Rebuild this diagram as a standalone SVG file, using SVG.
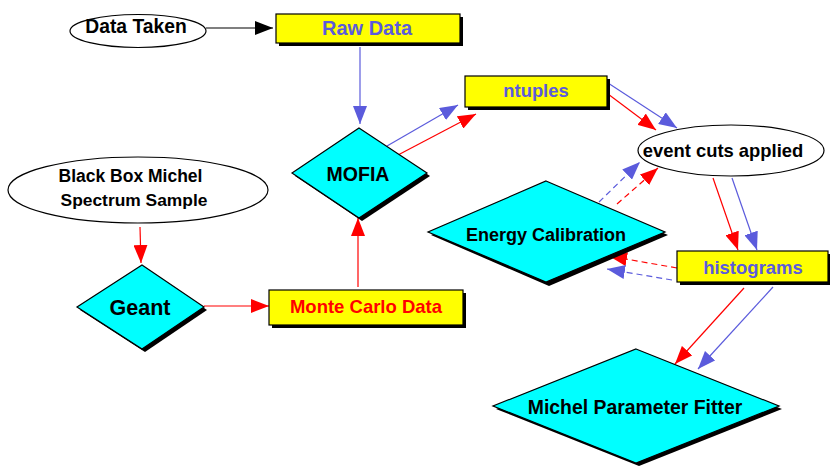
<svg xmlns="http://www.w3.org/2000/svg" width="830" height="467" viewBox="0 0 830 467">
<style>
.t{font-family:"Liberation Sans",Arial,sans-serif;font-weight:bold;text-anchor:middle}
.box{fill:#ffff00;stroke:#000;stroke-width:1.2}
.sh{fill:#000}
.dia{fill:#00ffff;stroke:#000;stroke-width:1.2}
.ell{fill:#fff;stroke:#000;stroke-width:1.2}
.bl{stroke:#5b5bdc;stroke-width:1.2;fill:none;marker-end:url(#ab)}
.rd{stroke:#ff0000;stroke-width:1.2;fill:none;marker-end:url(#ar)}
.bk{stroke:#000;stroke-width:1.2;fill:none;marker-end:url(#ak)}
.da{stroke-dasharray:6,4}
</style>
<defs>
<marker id="ab" markerUnits="userSpaceOnUse" markerWidth="18" markerHeight="14" refX="18" refY="7" orient="auto"><path d="M0,0 L18,7 L0,14 z" fill="#5b5bdc"/></marker>
<marker id="ar" markerUnits="userSpaceOnUse" markerWidth="18" markerHeight="14" refX="18" refY="7" orient="auto"><path d="M0,0 L18,7 L0,14 z" fill="#ff0000"/></marker>
<marker id="ak" markerUnits="userSpaceOnUse" markerWidth="18" markerHeight="14" refX="18" refY="7" orient="auto"><path d="M0,0 L18,7 L0,14 z" fill="#000"/></marker>
</defs>
<g id="connectors">
<line class="bk" x1="206" y1="28" x2="273" y2="28"/>
<line class="bl" x1="360" y1="47" x2="360" y2="124"/>
<line class="bl" x1="387" y1="146" x2="458" y2="105"/>
<line class="rd" x1="398" y1="155" x2="476" y2="114"/>
<line class="bl" x1="608" y1="83" x2="677" y2="128"/>
<line class="rd" x1="608" y1="94" x2="656" y2="130"/>
<line class="bl da" x1="599" y1="202" x2="640" y2="162"/>
<line class="rd da" x1="617" y1="204" x2="658" y2="168"/>
<line class="rd" x1="713" y1="178" x2="738" y2="250"/>
<line class="bl" x1="732" y1="178" x2="757" y2="250"/>
<line class="rd da" x1="677" y1="268" x2="609" y2="256"/>
<line class="bl da" x1="672" y1="280" x2="607" y2="269"/>
<line class="rd" x1="744" y1="288" x2="675" y2="364"/>
<line class="bl" x1="773" y1="287" x2="698" y2="369"/>
<line class="rd" x1="140" y1="227" x2="141" y2="263"/>
<line class="rd" x1="204" y1="306" x2="269" y2="306"/>
<line class="rd" x1="358" y1="287" x2="358" y2="218"/>
</g>
<g id="data-taken">
<ellipse class="ell" cx="138" cy="31" rx="68" ry="16.5"/>
<text class="t" x="136" y="33" font-size="19.3">Data Taken</text>
</g>
<g id="raw-data">
<rect class="sh" x="279" y="17" width="184" height="29"/>
<rect class="box" x="276" y="14" width="184" height="29"/>
<text class="t" x="367" y="34.5" font-size="20" fill="#5b5bdc">Raw Data</text>
</g>
<g id="mofia">
<polygon class="sh" points="362,131 430,176 362,221 295,176"/>
<polygon class="dia" points="359,128 427,173 359,218 292,173"/>
<text class="t" x="358" y="181" font-size="19.5">MOFIA</text>
</g>
<g id="ntuples">
<rect class="sh" x="468" y="79" width="142" height="31"/>
<rect class="box" x="465" y="76" width="142" height="31"/>
<text class="t" x="536" y="97" font-size="18.4" fill="#5b5bdc">ntuples</text>
</g>
<g id="event-cuts">
<ellipse class="ell" cx="731" cy="150.5" rx="93" ry="25.5"/>
<text class="t" x="723" y="157" font-size="18.4">event cuts applied</text>
</g>
<g id="energy-calibration">
<polygon class="sh" points="549,184 668,235 549,286 431,235"/>
<polygon class="dia" points="546,181 665,232 546,282 428,232"/>
<text class="t" x="546" y="241" font-size="18">Energy Calibration</text>
</g>
<g id="histograms">
<rect class="sh" x="680" y="254" width="151" height="31"/>
<rect class="box" x="677" y="251" width="151" height="31"/>
<text class="t" x="753" y="274" font-size="18.5" fill="#5b5bdc">histograms</text>
</g>
<g id="michel-fitter">
<polygon class="sh" points="639,352 782,409 639,466 496,409"/>
<polygon class="dia" points="636,349 779,406 636,463 493,406"/>
<text class="t" x="635" y="414" font-size="19.4">Michel Parameter Fitter</text>
</g>
<g id="black-box">
<ellipse class="ell" cx="138" cy="190" rx="130" ry="33"/>
<text class="t" x="130.5" y="182" font-size="17.5">Black Box Michel</text>
<text class="t" x="134" y="205.5" font-size="17.4">Spectrum Sample</text>
</g>
<g id="geant">
<polygon class="sh" points="145,268 207,310 145,352 80,310"/>
<polygon class="dia" points="142,265 204,307 142,349 77,307"/>
<text class="t" x="140" y="315" font-size="21.5">Geant</text>
</g>
<g id="monte-carlo">
<rect class="sh" x="272" y="293" width="194" height="35"/>
<rect class="box" x="269" y="290" width="194" height="35"/>
<text class="t" x="366" y="313" font-size="18.5" fill="#ff0000">Monte Carlo Data</text>
</g>
</svg>
